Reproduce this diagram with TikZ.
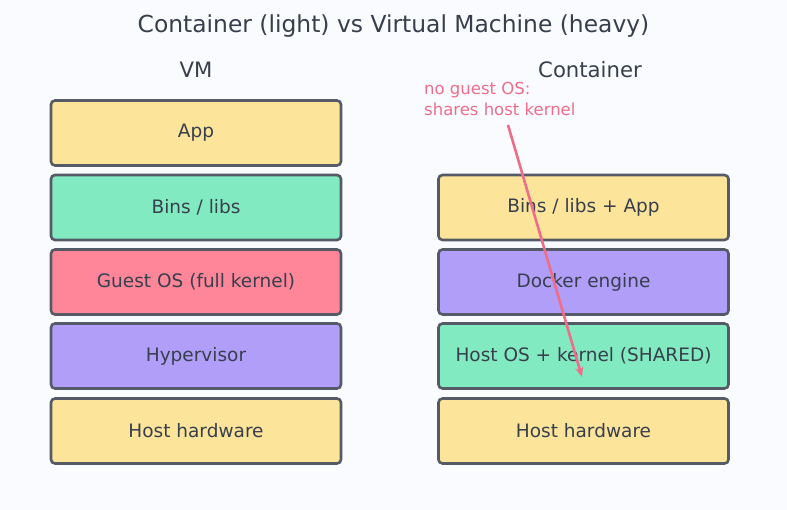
\documentclass[tikz,border=0pt]{standalone}
\usepackage{fontspec}
\setmainfont{DejaVu Sans}
\usetikzlibrary{arrows.meta}
\definecolor{bgcol}{HTML}{FAFBFE}
\definecolor{txtcol}{HTML}{373F4D}
\definecolor{edgecol}{HTML}{555B66}
\definecolor{yellowbox}{HTML}{FCE59A}
\definecolor{greenbox}{HTML}{82EAC1}
\definecolor{redbox}{HTML}{FF8599}
\definecolor{purplebox}{HTML}{B19EF9}
\definecolor{notecol}{HTML}{EE6E8A}
\begin{document}
\begin{tikzpicture}[x=1pt,y=-1pt,
	layer/.style={draw=edgecol,line width=2.6pt,rounded corners=4pt,minimum width=290pt,minimum height=65pt,inner sep=0pt,text=txtcol,font=\fontsize{18.5}{22}\selectfont},
	head/.style={text=txtcol,font=\fontsize{21.2}{25}\selectfont}]
	\fill[bgcol] (0,0) rectangle (787,510);
	\useasboundingbox (0,0) rectangle (787,510);
	\node[text=txtcol,font=\fontsize{23.4}{28}\selectfont] (title) at (393.5,26) {Container (light) vs Virtual Machine (heavy)};
	% VM stack
	\node[head] (vmhead) at (196,70) {VM};
	\node[layer,fill=yellowbox] (vmapp) at (196,133) {App};
	\node[layer,fill=greenbox] (vmbins) at (196,207.5) {Bins / libs};
	\node[layer,fill=redbox] (vmguest) at (196,282) {Guest OS (full kernel)};
	\node[layer,fill=purplebox] (vmhyper) at (196,356) {Hypervisor};
	\node[layer,fill=yellowbox] (vmhw) at (196,431) {Host hardware};
	% container stack
	\node[head] (cthead) at (590,70) {Container};
	\node[layer,fill=yellowbox] (ctbins) at (583.5,207.5) {Bins / libs + App};
	\node[layer,fill=purplebox] (ctdocker) at (583.5,282) {Docker engine};
	\node[layer,fill=greenbox] (cthost) at (583.5,356) {Host OS + kernel (SHARED)};
	\node[layer,fill=yellowbox] (cthw) at (583.5,431) {Host hardware};
	% note
	\node[anchor=west,align=left,inner sep=0pt,text=notecol,font=\fontsize{16.5}{21}\selectfont] (note) at (424,99) {no guest OS:\\shares host kernel};
	\coordinate (notefrom) at (508,125);
	\coordinate (noteto) at (582,377);
	\draw[-{Stealth[length=10pt,width=8pt]},notecol,line width=2.6pt] (notefrom) -- (noteto);
\end{tikzpicture}
\end{document}
